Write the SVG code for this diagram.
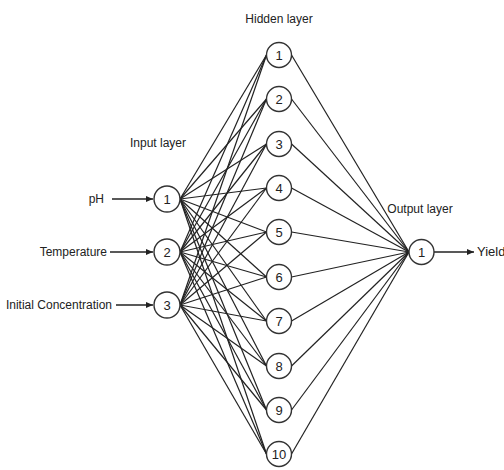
<svg xmlns="http://www.w3.org/2000/svg" width="504" height="470" viewBox="0 0 504 470">
<style>
.n circle{fill:#fff;stroke:#333;stroke-width:1.4}
text{font-family:"Liberation Sans",Arial,sans-serif;font-size:12px;fill:#222}
.n text{text-anchor:middle;font-size:13px}
.c line{stroke:#222;stroke-width:1.2}
.a line{stroke:#222;stroke-width:1.3}
</style>
<defs>
<marker id="ah" markerWidth="8" markerHeight="8" refX="7" refY="4" orient="auto" markerUnits="userSpaceOnUse">
<path d="M0,1 L7,4 L0,7 Z" fill="#222"/>
</marker>
</defs>
<rect width="504" height="470" fill="#fff"/>
<g id="connectors" class="c">
<line x1="180" y1="199" x2="266.5" y2="55"/><line x1="180" y1="199" x2="266.5" y2="99"/><line x1="180" y1="199" x2="266.5" y2="144"/><line x1="180" y1="199" x2="266.5" y2="188"/><line x1="180" y1="199" x2="266.5" y2="232"/><line x1="180" y1="199" x2="266.5" y2="277"/><line x1="180" y1="199" x2="266.5" y2="321"/><line x1="180" y1="199" x2="266.5" y2="366"/><line x1="180" y1="199" x2="266.5" y2="410"/><line x1="180" y1="199" x2="266.5" y2="454"/>
<line x1="180" y1="252" x2="266.5" y2="55"/><line x1="180" y1="252" x2="266.5" y2="99"/><line x1="180" y1="252" x2="266.5" y2="144"/><line x1="180" y1="252" x2="266.5" y2="188"/><line x1="180" y1="252" x2="266.5" y2="232"/><line x1="180" y1="252" x2="266.5" y2="277"/><line x1="180" y1="252" x2="266.5" y2="321"/><line x1="180" y1="252" x2="266.5" y2="366"/><line x1="180" y1="252" x2="266.5" y2="410"/><line x1="180" y1="252" x2="266.5" y2="454"/>
<line x1="180" y1="305" x2="266.5" y2="55"/><line x1="180" y1="305" x2="266.5" y2="99"/><line x1="180" y1="305" x2="266.5" y2="144"/><line x1="180" y1="305" x2="266.5" y2="188"/><line x1="180" y1="305" x2="266.5" y2="232"/><line x1="180" y1="305" x2="266.5" y2="277"/><line x1="180" y1="305" x2="266.5" y2="321"/><line x1="180" y1="305" x2="266.5" y2="366"/><line x1="180" y1="305" x2="266.5" y2="410"/><line x1="180" y1="305" x2="266.5" y2="454"/>
<line x1="291.5" y1="55" x2="409" y2="252"/><line x1="291.5" y1="99" x2="409" y2="252"/><line x1="291.5" y1="144" x2="409" y2="252"/><line x1="291.5" y1="188" x2="409" y2="252"/><line x1="291.5" y1="232" x2="409" y2="252"/><line x1="291.5" y1="277" x2="409" y2="252"/><line x1="291.5" y1="321" x2="409" y2="252"/><line x1="291.5" y1="366" x2="409" y2="252"/><line x1="291.5" y1="410" x2="409" y2="252"/><line x1="291.5" y1="454" x2="409" y2="252"/>
</g>
<g id="arrows" class="a">
<line x1="112" y1="199" x2="153" y2="199" marker-end="url(#ah)"/>
<line x1="110" y1="252" x2="153" y2="252" marker-end="url(#ah)"/>
<line x1="116" y1="305" x2="153" y2="305" marker-end="url(#ah)"/>
<line x1="434" y1="252" x2="474" y2="252" marker-end="url(#ah)"/>
</g>
<g id="labels">
<text x="279" y="23" text-anchor="middle">Hidden layer</text>
<text x="158" y="147" text-anchor="middle">Input layer</text>
<text x="420" y="213" text-anchor="middle">Output layer</text>
<text x="104" y="203" text-anchor="end">pH</text>
<text x="107" y="256" text-anchor="end">Temperature</text>
<text x="112" y="309" text-anchor="end">Initial Concentration</text>
<text x="477" y="256" style="font-size:13px">Yield</text>
</g>
<g id="in1" class="n"><circle cx="167" cy="199" r="13"/><text x="167" y="204">1</text></g>
<g id="in2" class="n"><circle cx="167" cy="252" r="13"/><text x="167" y="257">2</text></g>
<g id="in3" class="n"><circle cx="167" cy="305" r="13"/><text x="167" y="310">3</text></g>
<g id="h1" class="n"><circle cx="279" cy="55" r="12.5"/><text x="279" y="60">1</text></g>
<g id="h2" class="n"><circle cx="279" cy="99" r="12.5"/><text x="279" y="104">2</text></g>
<g id="h3" class="n"><circle cx="279" cy="144" r="12.5"/><text x="279" y="149">3</text></g>
<g id="h4" class="n"><circle cx="279" cy="188" r="12.5"/><text x="279" y="193">4</text></g>
<g id="h5" class="n"><circle cx="279" cy="232" r="12.5"/><text x="279" y="237">5</text></g>
<g id="h6" class="n"><circle cx="279" cy="277" r="12.5"/><text x="279" y="282">6</text></g>
<g id="h7" class="n"><circle cx="279" cy="321" r="12.5"/><text x="279" y="326">7</text></g>
<g id="h8" class="n"><circle cx="279" cy="366" r="12.5"/><text x="279" y="371">8</text></g>
<g id="h9" class="n"><circle cx="279" cy="410" r="12.5"/><text x="279" y="415">9</text></g>
<g id="h10" class="n"><circle cx="279" cy="454" r="12.5"/><text x="279" y="459">10</text></g>
<g id="out1" class="n"><circle cx="421.5" cy="252" r="12.5"/><text x="421.5" y="257">1</text></g>
</svg>
